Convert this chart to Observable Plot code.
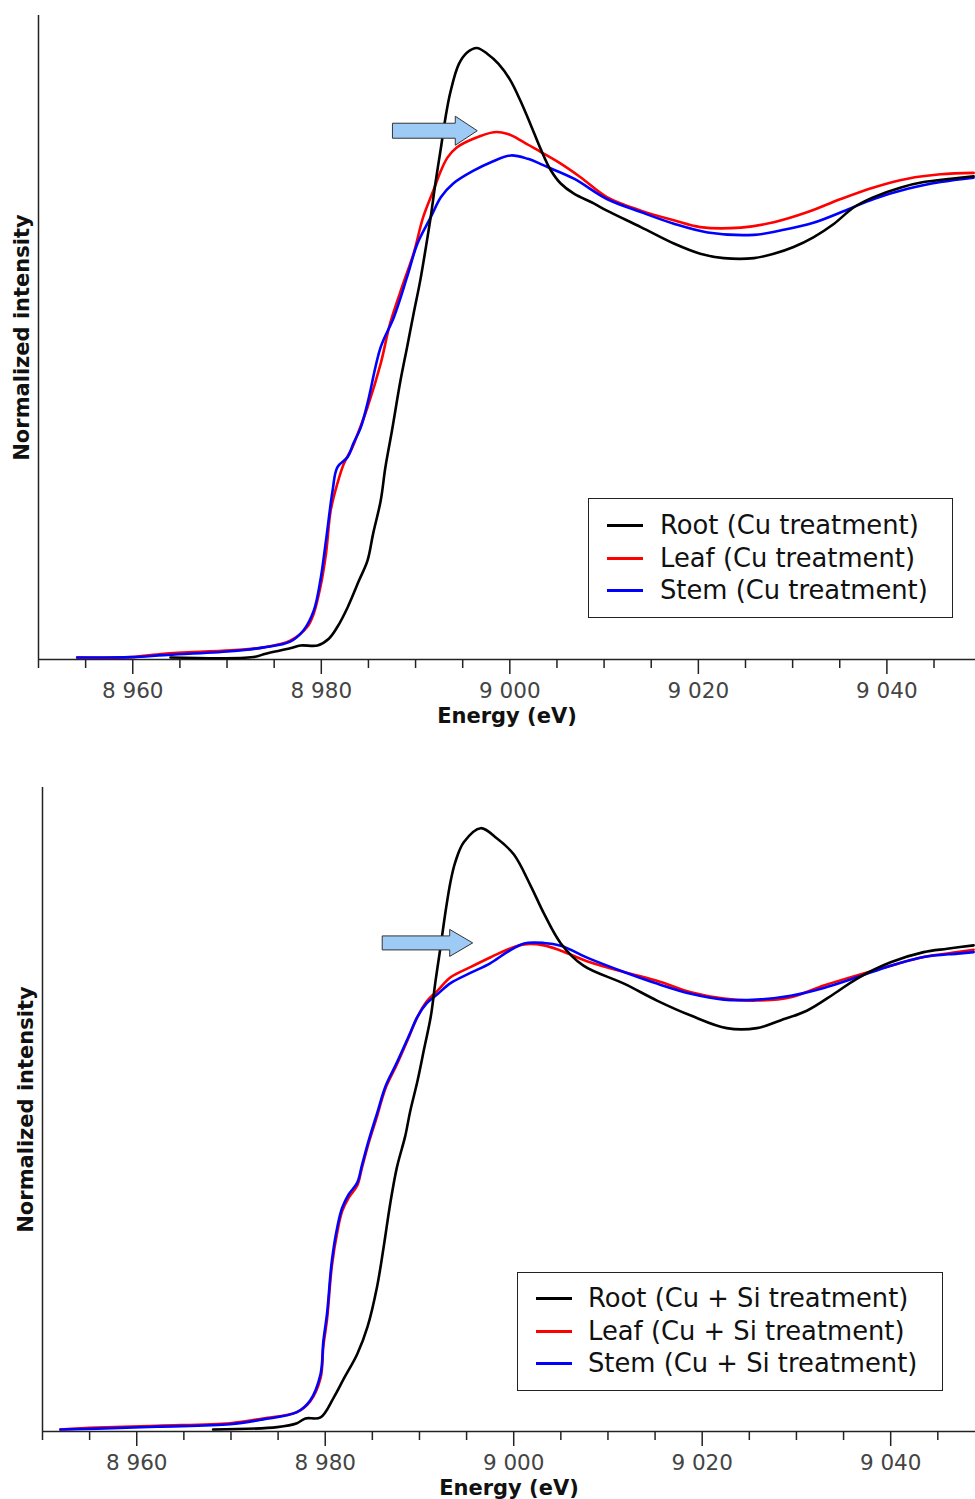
<!DOCTYPE html>
<html><head><meta charset="utf-8">
<script src="https://cdn.jsdelivr.net/npm/d3@7"></script>
<script src="https://cdn.jsdelivr.net/npm/@observablehq/plot@0.6"></script>
<style>
body{margin:0;background:#fff;}
#wrap{position:relative;width:975px;height:1499px;overflow:hidden;font-family:"DejaVu Sans",sans-serif;background:#fff;}
#wrap svg{display:block}
.legend{position:absolute;border:1.5px solid #222;background:#fff;box-sizing:border-box;}
.sw{position:absolute;width:36px;height:3px;}
.lt{position:absolute;height:30px;line-height:30px;font-size:25.8px;color:#111;white-space:nowrap;}
</style></head><body><div id="wrap"></div><script>
// ---- Data: [energy (eV), normalized intensity] ----
const rootCu = [[8964.0,0.004],[8972.8,0.005],[8974.1,0.012],[8976.7,0.023],[8977.8,0.029],[8979.6,0.029],[8980.8,0.043],[8981.7,0.067],[8982.8,0.108],[8984.0,0.163],[8984.9,0.204],[8985.5,0.260],[8986.3,0.328],[8986.8,0.397],[8987.5,0.473],[8988.4,0.576],[8989.1,0.645],[8989.8,0.715],[8990.5,0.783],[8991.1,0.852],[8991.6,0.913],[8992.1,0.983],[8992.7,1.058],[8993.2,1.122],[8993.7,1.172],[8994.6,1.230],[8995.5,1.254],[8996.5,1.263],[8997.6,1.251],[8998.8,1.230],[9000.0,1.198],[9001.1,1.155],[9002.2,1.105],[9003.3,1.053],[9004.3,1.012],[9005.4,0.983],[9006.8,0.962],[9008.9,0.942],[9010.3,0.927],[9013.9,0.893],[9017.4,0.859],[9020.2,0.838],[9022.7,0.829],[9025.9,0.829],[9028.0,0.838],[9030.1,0.852],[9032.2,0.872],[9034.4,0.900],[9036.5,0.934],[9038.6,0.955],[9041.5,0.975],[9043.9,0.986],[9046.8,0.993],[9049.2,0.998]];
const leafCu = [[8954.1,0.004],[8959.9,0.005],[8963.3,0.012],[8970.4,0.019],[8973.9,0.025],[8976.7,0.039],[8978.5,0.067],[8979.2,0.095],[8979.9,0.149],[8980.5,0.219],[8981.0,0.308],[8981.7,0.363],[8982.4,0.405],[8983.3,0.438],[8984.0,0.473],[8984.9,0.521],[8986.3,0.611],[8987.3,0.694],[8988.7,0.777],[8989.8,0.839],[8990.8,0.913],[8991.9,0.969],[8992.7,1.010],[8993.4,1.037],[8994.4,1.058],[8996.2,1.076],[8998.3,1.089],[8999.7,1.086],[9001.5,1.068],[9003.3,1.048],[9005.4,1.024],[9007.5,0.996],[9010.3,0.955],[9013.9,0.927],[9017.4,0.907],[9020.2,0.893],[9024.5,0.892],[9028.0,0.903],[9031.6,0.924],[9035.1,0.951],[9038.6,0.975],[9042.2,0.993],[9045.7,1.002],[9049.2,1.005]];
const stemCu = [[8954.1,0.004],[8959.9,0.005],[8963.3,0.009],[8970.4,0.017],[8973.9,0.025],[8976.7,0.037],[8978.1,0.060],[8979.2,0.101],[8979.9,0.163],[8980.5,0.246],[8981.2,0.349],[8981.7,0.397],[8982.8,0.418],[8983.4,0.446],[8984.2,0.480],[8984.9,0.529],[8986.3,0.645],[8987.7,0.707],[8989.1,0.790],[8990.2,0.859],[8991.6,0.913],[8992.7,0.955],[8994.0,0.983],[8996.2,1.010],[8998.0,1.027],[9000.1,1.041],[9001.9,1.034],[9004.0,1.017],[9006.8,0.993],[9010.3,0.951],[9013.9,0.924],[9017.4,0.900],[9021.0,0.882],[9025.9,0.877],[9028.7,0.886],[9032.2,0.902],[9035.8,0.929],[9038.6,0.951],[9042.2,0.972],[9045.7,0.986],[9049.2,0.995]];
const rootCuSi = [[8968.1,0.004],[8974.9,0.009],[8977.0,0.017],[8977.9,0.027],[8979.5,0.029],[8980.9,0.070],[8982.0,0.110],[8983.4,0.160],[8984.5,0.217],[8985.5,0.299],[8986.2,0.381],[8986.9,0.471],[8987.6,0.545],[8988.5,0.611],[8989.0,0.660],[8989.8,0.725],[8990.5,0.791],[8991.2,0.857],[8991.7,0.930],[8992.2,0.996],[8992.8,1.078],[8993.3,1.136],[8993.8,1.176],[8994.7,1.217],[8996.5,1.246],[8998.2,1.225],[9000.0,1.192],[9001.8,1.127],[9003.2,1.070],[9005.0,1.008],[9007.4,0.962],[9011.7,0.925],[9015.2,0.890],[9018.8,0.859],[9022.6,0.833],[9025.8,0.833],[9028.3,0.849],[9031.1,0.869],[9034.0,0.904],[9036.4,0.935],[9040.0,0.969],[9043.5,0.990],[9046.0,0.997],[9048.8,1.004]];
const leafCuSi = [[8951.9,0.004],[8955.8,0.008],[8962.2,0.012],[8969.9,0.017],[8973.4,0.027],[8977.0,0.040],[8978.4,0.062],[8979.5,0.110],[8979.8,0.176],[8980.2,0.233],[8980.7,0.341],[8981.3,0.414],[8981.8,0.455],[8982.5,0.483],[8983.4,0.508],[8983.9,0.545],[8984.6,0.595],[8985.5,0.651],[8986.4,0.709],[8987.6,0.758],[8988.9,0.816],[8989.8,0.857],[8990.8,0.889],[8991.9,0.910],[8993.3,0.938],[8995.4,0.959],[8997.5,0.979],[8999.3,0.995],[9001.1,1.006],[9003.2,1.004],[9005.0,0.993],[9008.1,0.969],[9011.7,0.949],[9015.2,0.931],[9018.8,0.907],[9022.3,0.894],[9025.8,0.890],[9029.4,0.897],[9032.9,0.921],[9036.4,0.942],[9040.0,0.962],[9043.5,0.980],[9047.1,0.990],[9048.8,0.995]];
const stemCuSi = [[8951.9,0.004],[8955.8,0.006],[8962.2,0.010],[8969.9,0.015],[8973.4,0.025],[8977.0,0.040],[8978.4,0.064],[8979.5,0.118],[8979.8,0.186],[8980.2,0.245],[8980.7,0.352],[8981.3,0.424],[8981.8,0.462],[8982.5,0.490],[8983.4,0.514],[8983.9,0.550],[8984.6,0.600],[8985.5,0.657],[8986.4,0.713],[8987.6,0.762],[8988.9,0.818],[8989.8,0.857],[8990.8,0.885],[8991.9,0.903],[8993.3,0.926],[8995.4,0.947],[8997.5,0.967],[8999.3,0.990],[9001.1,1.008],[9003.2,1.009],[9005.0,1.003],[9008.1,0.976],[9011.7,0.949],[9015.2,0.925],[9018.8,0.904],[9022.3,0.892],[9025.8,0.892],[9029.4,0.900],[9032.9,0.916],[9036.4,0.938],[9040.0,0.962],[9043.5,0.980],[9047.1,0.987],[9048.8,0.990]];

const majorTicks = [8960, 8980, 9000, 9020, 9040];
const minorTicks = [8950, 8955, 8965, 8970, 8975, 8985, 8990, 8995, 9005, 9010, 9015, 9025, 9030, 9035, 9045];
const legendTop = ["Root (Cu treatment)", "Leaf (Cu treatment)", "Stem (Cu treatment)"];
const legendBottom = ["Root (Cu + Si treatment)", "Leaf (Cu + Si treatment)", "Stem (Cu + Si treatment)"];
const colors = ["#000000", "#ff0000", "#0000ff"];
// arrows: tail energy, tip energy, intensity
const arrowTop = {x1: 8987.6, x2: 8996.6, y: 1.091};
const arrowBottom = {x1: 8986.1, x2: 8995.7, y: 1.008};

const fmt = d => d3.format(",")(d).replace(/,/g, " ");

function blockArrow(a, sh, hh, hl) {
  return (index, scales) => {
    const x1 = scales.x(a.x1), x2 = scales.x(a.x2), y = scales.y(a.y);
    const pts = [[x1, y - sh], [x2 - hl, y - sh], [x2 - hl, y - hh], [x2, y], [x2 - hl, y + hh], [x2 - hl, y + sh], [x1, y + sh]];
    return d3.create("svg:path")
      .attr("d", "M" + pts.map(p => p.join(",")).join("L") + "Z")
      .attr("fill", "#9dcbf6").attr("stroke", "#333").attr("stroke-width", 1)
      .node();
  };
}

function chart({series, arrow, arrowDims, height, marginTop, marginBottom, marginLeft, xMax}) {
  return Plot.plot({
    width: 975, height, marginTop, marginBottom, marginLeft, marginRight: 0,
    style: {fontFamily: "DejaVu Sans, sans-serif", background: "#fff", overflow: "visible"},
    x: {domain: [8950, xMax]},
    y: {domain: [0, 1.33], axis: null},
    marks: [
      Plot.ruleX([8950], {stroke: "#222", strokeWidth: 1.5}),
      Plot.ruleY([0], {stroke: "#222", strokeWidth: 1.5}),
      Plot.axisX({ticks: minorTicks, tickSize: 9, tickFormat: () => "", stroke: "#222", strokeWidth: 1.5, label: null}),
      Plot.axisX({ticks: majorTicks, tickSize: 15, tickPadding: 8, tickFormat: fmt, fontSize: 21.5, fill: "#444", stroke: "#222", strokeWidth: 1.5, label: null}),
      ...[1, 2, 0].map(i => Plot.line(series[i], {x: d => d[0], y: d => d[1], stroke: colors[i], strokeWidth: 2.6, curve: "catmull-rom"})),
      blockArrow(arrow, ...arrowDims),
      Plot.text(["Energy (eV)"], {text: d => d, frameAnchor: "bottom", dy: 57, fontWeight: "bold", fontSize: 21, fill: "#111", lineAnchor: "middle", textAnchor: "middle"}),
      Plot.text(["Normalized intensity"], {text: d => d, frameAnchor: "left", dx: -16, rotate: -90, fontWeight: "bold", fontSize: 21, fill: "#111", lineAnchor: "middle", textAnchor: "middle"})
    ]
  });
}

function legend(labels, left, top, width, height, rows, swLeft, txLeft) {
  const box = document.createElement("div");
  box.className = "legend";
  Object.assign(box.style, {left: left + "px", top: top + "px", width: width + "px", height: height + "px"});
  labels.forEach((lab, i) => {
    const sw = document.createElement("div");
    sw.className = "sw";
    Object.assign(sw.style, {left: swLeft + "px", top: (rows[i] - 1.5) + "px", background: colors[i]});
    const t = document.createElement("div");
    t.className = "lt";
    t.textContent = lab;
    Object.assign(t.style, {left: txLeft + "px", top: (rows[i] - 15) + "px"});
    box.appendChild(sw); box.appendChild(t);
  });
  return box;
}

const wrap = document.getElementById("wrap");
wrap.appendChild(chart({series: [rootCu, leafCu, stemCu], arrow: arrowTop, arrowDims: [7.5, 14.5, 22], height: 740, marginTop: 15, marginBottom: 81, marginLeft: 38, xMax: 9049.4}));
wrap.appendChild(chart({series: [rootCuSi, leafCuSi, stemCuSi], arrow: arrowBottom, arrowDims: [7, 13.5, 23], height: 759, marginTop: 47, marginBottom: 68, marginLeft: 42, xMax: 9049.0}));
wrap.appendChild(legend(legendTop, 588, 498, 365, 120, [26, 59, 91], 18, 71));
wrap.appendChild(legend(legendBottom, 517, 1272, 426, 119, [25, 58, 90], 18, 70));
</script></body></html>
